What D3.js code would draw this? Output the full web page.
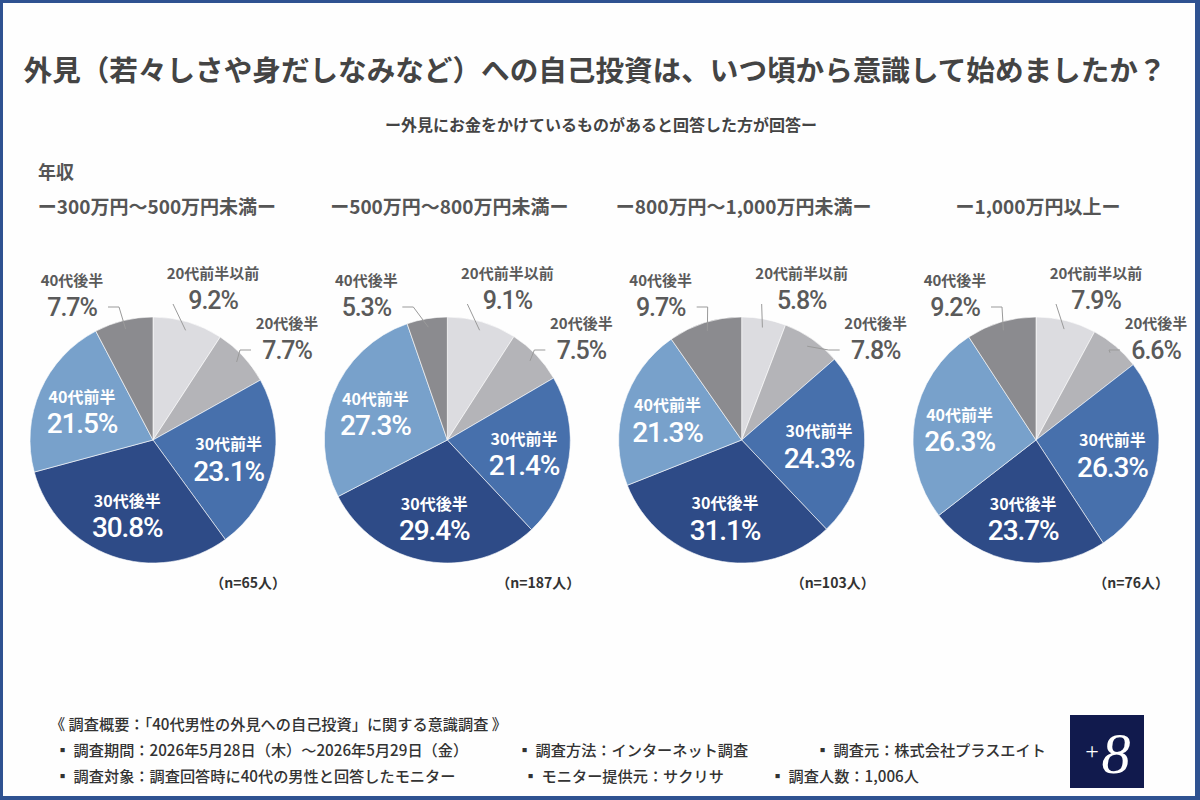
<!DOCTYPE html>
<html lang="ja">
<head>
<meta charset="utf-8">
<script src="https://cdn.jsdelivr.net/npm/d3@7"></script>
<style>
  body { margin: 0; background: #fff; }
  svg { display: block; }
  .jp { font-family: "Noto Sans CJK JP", "Noto Sans", sans-serif; }
  .num { font-family: Roboto, "Liberation Sans", sans-serif; font-weight: 500; letter-spacing: -1.1px; }
</style>
</head>
<body>
<div id="chart"></div>
<script>
// data
const categories = ["20代前半以前", "20代後半", "30代前半", "30代後半", "40代前半", "40代後半"];
const groups = ["ー300万円～500万円未満ー", "ー500万円～800万円未満ー", "ー800万円～1,000万円未満ー", "ー1,000万円以上ー"];
const sampleSizes = [65, 187, 103, 76];
const values300to500 = [9.2, 7.7, 23.1, 30.8, 21.5, 7.7];
const values500to800 = [9.1, 7.5, 21.4, 29.4, 27.3, 5.3];
const values800to1000 = [5.8, 7.8, 24.3, 31.1, 21.3, 9.7];
const values1000plus = [7.9, 6.6, 26.3, 23.7, 26.3, 9.2];
const allValues = [values300to500, values500to800, values800to1000, values1000plus];

const titleText = "外見（若々しさや身だしなみなど）への自己投資は、いつ頃から意識して始めましたか？";
const subtitleText = "ー外見にお金をかけているものがあると回答した方が回答ー";
const footerLines = [
  [["《 調査概要：「40代男性の外見への自己投資」に関する意識調査 》", 0]],
  [["▪ 調査期間：2026年5月28日（木）～2026年5月29日（金）", 0], ["▪ 調査方法：インターネット調査", 462], ["▪ 調査元：株式会社プラスエイト", 760]],
  [["▪ 調査対象：調査回答時に40代の男性と回答したモニター", 0], ["▪ モニター提供元：サクリサ", 468], ["▪ 調査人数：1,006人", 715]]
];

const W = 1200, H = 800;
const svg = d3.select("#chart").append("svg")
    .attr("width", W)
    .attr("height", H);

// frame
svg.append("rect").attr("width", W).attr("height", H).attr("fill", "#2f5291");
svg.append("rect").attr("x", 3).attr("y", 3).attr("width", W - 8).attr("height", H - 7).attr("fill", "#fefefe");

svg.append("text")
    .attr("class", "jp")
    .attr("x", 595).attr("y", 81)
    .attr("text-anchor", "middle")
    .attr("font-size", 28.6).attr("font-weight", 700)
    .attr("fill", "#444")
    .text(titleText);

svg.append("text")
    .attr("class", "jp")
    .attr("x", 601).attr("y", 131)
    .attr("text-anchor", "middle")
    .attr("font-size", 16).attr("font-weight", 700)
    .attr("fill", "#444")
    .text(subtitleText);

svg.append("text")
    .attr("class", "jp")
    .attr("x", 38).attr("y", 179)
    .attr("font-size", 18).attr("font-weight", 700)
    .attr("fill", "#555")
    .text("年収");

const colors = d3.scaleOrdinal()
    .domain(categories)
    .range(["#dcdce0", "#b4b4b8", "#4770ac", "#2e4b87", "#78a1cb", "#8b8b8f"]);

const cx = d3.scalePoint().domain(groups).range([153, 1036]);
const cy = 440;
const R = 123;

const pie = d3.pie().sort(null).value(d => d.value);
const arc = d3.arc().innerRadius(0).outerRadius(R);

// outside labels sit in the same spot in every pie
const outside = {
  "20代前半以前": { dx: 60, dy: -154, elbow: null },
  "20代後半": { dx: 134, dy: -104, elbow: -1 },
  "40代後半": { dx: -81, dy: -147, elbow: 1 }
};
const maxLabelX = 1156;

function polar(angle, r) {
  return [r * Math.sin(angle), -r * Math.cos(angle)];
}

groups.forEach((g, gi) => {
  const data = categories.map((c, i) => ({ cat: c, value: allValues[gi][i] }));
  const arcs = pie(data);
  const px = cx(g);
  const grp = svg.append("g").attr("transform", `translate(${px},${cy})`);

  svg.append("text")
      .attr("class", "jp")
      .attr("x", px + (gi == 0 ? 4 : 2)).attr("y", 214)
      .attr("text-anchor", "middle")
      .attr("font-size", 19).attr("font-weight", 700)
      .attr("fill", "#555")
      .text(g);

  grp.selectAll("path.slice")
      .data(arcs)
      .enter()
      .append("path")
      .attr("class", "slice")
      .attr("d", arc)
      .attr("fill", d => colors(d.data.cat))
      .attr("stroke", "#fff")
      .attr("stroke-width", 0.6);

  arcs.forEach(d => {
    const mid = (d.startAngle + d.endAngle) / 2;
    const o = outside[d.data.cat];
    const pct = d.data.value.toFixed(1) + "%";
    if (o) {
      // keep the label inside the frame
      const lx = Math.min(o.dx, maxLabelX - px);
      const sign = o.dx > 0 ? 1 : -1;
      const start = polar(mid, R * 0.93);
      const end = [lx - sign * 36, o.dy + 14];
      let pts;
      if (o.elbow != null) {
        const elbow = [end[0] + o.elbow * 11, end[1]];
        pts = [start, elbow, end];
      } else {
        pts = [start, [end[0] - 4, end[1] + 4]];
      }
      grp.append("path")
          .attr("d", d3.line()(pts))
          .attr("fill", "none")
          .attr("stroke", "#9a9a9a")
          .attr("stroke-width", 1);
      grp.append("text")
          .attr("class", "jp")
          .attr("x", lx).attr("y", o.dy - 12)
          .attr("dy", "0.35em")
          .attr("text-anchor", "middle")
          .attr("font-size", 15).attr("font-weight", 700)
          .attr("fill", "#5a5a5a")
          .text(d.data.cat);
      grp.append("text")
          .attr("class", "num")
          .attr("x", lx).attr("y", o.dy + 14)
          .attr("dy", "0.36em")
          .attr("text-anchor", "middle")
          .attr("font-size", 25)
          .attr("fill", "#5a5a5a")
          .text(pct);
    } else {
      const p = polar(mid, R * 0.63);
      grp.append("text")
          .attr("class", "jp")
          .attr("x", p[0]).attr("y", p[1] - 12)
          .attr("dy", "0.35em")
          .attr("text-anchor", "middle")
          .attr("font-size", 16).attr("font-weight", 700)
          .attr("fill", "#fff")
          .text(d.data.cat);
      grp.append("text")
          .attr("class", "num")
          .attr("x", p[0]).attr("y", p[1] + 14)
          .attr("dy", "0.36em")
          .attr("text-anchor", "middle")
          .attr("font-size", 28)
          .attr("fill", "#fff")
          .text(pct);
    }
  });

  svg.append("text")
      .attr("class", "jp")
      .attr("x", px + 133).attr("y", 588)
      .attr("text-anchor", "end")
      .attr("font-size", 14).attr("font-weight", 700)
      .attr("fill", "#333")
      .text(`（n=${sampleSizes[gi]}人）`);
});

// footer
footerLines.forEach((line, li) => {
  line.forEach(([txt, off]) => {
    svg.append("text")
        .attr("class", "jp")
        .attr("x", (li == 0 ? 50 : 55) + off)
        .attr("y", 730 + li * 26)
        .attr("font-size", 15.2).attr("font-weight", 500)
        .attr("fill", "#333")
        .text(txt);
  });
});

// logo
const logo = svg.append("g").attr("transform", "translate(1070,715)");
logo.append("rect").attr("width", 74).attr("height", 73).attr("fill", "#111a4d");
logo.append("text")
    .attr("x", 22).attr("y", 44)
    .attr("text-anchor", "middle")
    .attr("font-family", "Liberation Serif, serif")
    .attr("font-size", 24)
    .attr("fill", "#fff")
    .text("+");
logo.append("text")
    .attr("x", 46).attr("y", 58)
    .attr("text-anchor", "middle")
    .attr("font-family", "Liberation Serif, serif")
    .attr("font-style", "italic")
    .attr("font-size", 58)
    .attr("fill", "#fff")
    .text("8");
</script>
</body>
</html>
